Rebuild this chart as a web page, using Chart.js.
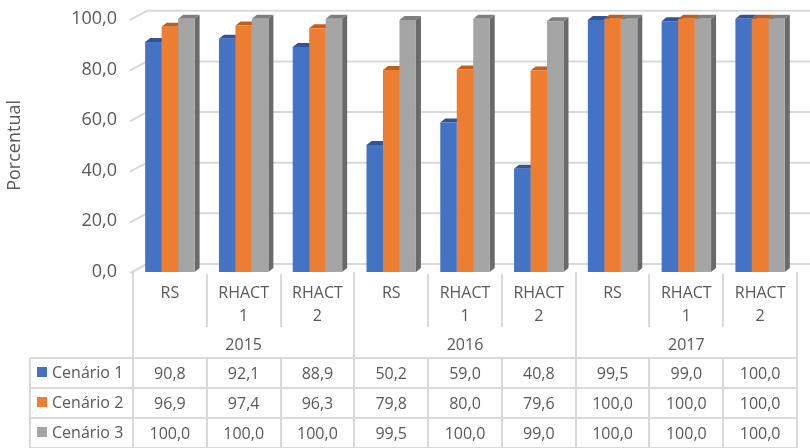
<!DOCTYPE html>
<html>
<head>
<meta charset="utf-8">
<script src="https://cdn.jsdelivr.net/npm/chart.js@4"></script>
<style>
  html, body { margin: 0; padding: 0; background: #fff; }
</style>
</head>
<body>
<canvas id="chart" width="810" height="448"></canvas>
<script>
// chart data
const categories = [['RS'], ['RHACT', '1'], ['RHACT', '2'], ['RS'], ['RHACT', '1'], ['RHACT', '2'], ['RS'], ['RHACT', '1'], ['RHACT', '2']];
const years = ['2015', '2016', '2017'];
const seriesNames = ['Cenário 1', 'Cenário 2', 'Cenário 3'];
const cenario1 = [90.8, 92.1, 88.9, 50.2, 59.0, 40.8, 99.5, 99.0, 100.0];
const cenario2 = [96.9, 97.4, 96.3, 79.8, 80.0, 79.6, 100.0, 100.0, 100.0];
const cenario3 = [100.0, 100.0, 100.0, 99.5, 100.0, 99.0, 100.0, 100.0, 100.0];
const yTicks = [0, 20, 40, 60, 80, 100];

const colors = ['#4472C4', '#ED7D31', '#A5A5A5'];
const topColors = ['#2F5597', '#C0601C', '#7F7F7F'];
const sideColors = ['#2F5597', '#B0561A', '#6A6A6A'];
const textColor = '#595959';
const lineColor = '#D9D9D9';
const font = '"Open Sans", sans-serif';

function fmt(v) {
    return v.toFixed(1).replace('.', ',');
}

// fake 3D look + back wall grid
const excel3d = {
    id: 'excel3d',
    beforeDatasetsDraw(chart) {
        const { ctx, chartArea: a, scales: { y } } = chart;
        const dx = 5, dy = 4;
        ctx.save();
        ctx.strokeStyle = lineColor;
        ctx.lineWidth = 2;
        yTicks.forEach(v => {
            const py = y.getPixelForValue(v) - 8;
            ctx.beginPath();
            ctx.moveTo(a.left + 14, py);
            ctx.lineTo(a.right + 13, py);
            ctx.stroke();
            ctx.beginPath();
            ctx.moveTo(a.left - 3, py + 9);
            ctx.lineTo(a.left + 14, py);
            ctx.stroke();
        });
        chart.data.datasets.forEach((ds, di) => {
            chart.getDatasetMeta(di).data.forEach(bar => {
                const x0 = bar.x - bar.width / 2, x1 = bar.x + bar.width / 2;
                const top = bar.y, base = bar.base;
                ctx.fillStyle = sideColors[di];
                ctx.beginPath();
                ctx.moveTo(x1, top);
                ctx.lineTo(x1 + dx, top - dy);
                ctx.lineTo(x1 + dx, base - dy);
                ctx.lineTo(x1, base);
                ctx.closePath();
                ctx.fill();
                ctx.fillStyle = topColors[di];
                ctx.beginPath();
                ctx.moveTo(x0, top);
                ctx.lineTo(x0 + dx, top - dy);
                ctx.lineTo(x1 + dx, top - dy);
                ctx.lineTo(x1, top);
                ctx.closePath();
                ctx.fill();
            });
        });
        ctx.restore();
    },
    // category labels + data table
    afterDraw(chart) {
        const { ctx, chartArea: a, scales: { x } } = chart;
        const data = [cenario1, cenario2, cenario3];
        const step = x.getPixelForValue(1) - x.getPixelForValue(0);
        const b = a.bottom;
        const tableTop = b + 86, rowH = 30;
        ctx.save();
        ctx.strokeStyle = lineColor;
        ctx.lineWidth = 2;

        // vertical lines
        for (let i = 0; i <= categories.length; i++) {
            const px = Math.round(x.getPixelForValue(0) - step / 2 + i * step);
            const groupEdge = i % 3 === 0;
            ctx.beginPath();
            ctx.moveTo(px, groupEdge ? b : b + 2);
            ctx.lineTo(px, groupEdge ? tableTop + rowH * 3 : b + 55);
            ctx.stroke();
            if (!groupEdge) {
                ctx.beginPath();
                ctx.moveTo(px, tableTop);
                ctx.lineTo(px, tableTop + rowH * 3);
                ctx.stroke();
            }
        }
        // horizontal lines
        for (let r = 0; r <= 3; r++) {
            ctx.beginPath();
            ctx.moveTo(30, tableTop + r * rowH);
            ctx.lineTo(a.right, tableTop + r * rowH);
            ctx.stroke();
        }
        ctx.beginPath();
        ctx.moveTo(30, tableTop);
        ctx.lineTo(30, tableTop + rowH * 3);
        ctx.stroke();

        ctx.fillStyle = textColor;
        ctx.font = '16px ' + font;
        ctx.textAlign = 'center';
        ctx.textBaseline = 'middle';
        categories.forEach((lab, i) => {
            const px = x.getPixelForValue(i);
            lab.forEach((t, li) => ctx.fillText(t, px, b + 21 + li * 23));
        });
        years.forEach((yr, g) => {
            const px = (x.getPixelForValue(g * 3) + x.getPixelForValue(g * 3 + 2)) / 2;
            ctx.fillText(yr, px, b + 73);
        });
        data.forEach((row, r) => {
            const cy = tableTop + r * rowH + rowH / 2;
            row.forEach((v, i) => ctx.fillText(fmt(v), x.getPixelForValue(i), cy + 1));
            ctx.fillStyle = colors[r];
            ctx.fillRect(37, cy - 6, 10, 10);
            ctx.fillStyle = textColor;
            ctx.textAlign = 'left';
            ctx.fillText(seriesNames[r], 52, cy);
            ctx.textAlign = 'center';
        });
        ctx.restore();
    }
};

new Chart(document.getElementById('chart'), {
    type: 'bar',
    data: {
        labels: categories.map(c => c.join(' ')),
        datasets: [
            { label: seriesNames[0], data: cenario1, backgroundColor: colors[0] },
            { label: seriesNames[1], data: cenario2, backgroundColor: colors[1] },
            { label: seriesNames[2], data: cenario3, backgroundColor: colors[2] }
        ]
    },
    options: {
        responsive: false,
        animation: false,
        devicePixelRatio: 1,
        layout: { padding: { top: 17, right: 13, bottom: 176, left: 0 } },
        categoryPercentage: 0.67,
        barPercentage: 1.0,
        plugins: { legend: { display: false }, tooltip: { enabled: false } },
        scales: {
            x: { display: false },
            y: {
                min: 0,
                max: 100,
                afterBuildTicks: s => { s.ticks = yTicks.map(v => ({ value: v })); },
                afterFit: s => { s.width = 133; },
                grid: { display: false },
                border: { display: false },
                ticks: {
                    padding: 8,
                    color: textColor,
                    font: { family: font, size: 18 },
                    callback: v => fmt(v)
                },
                title: {
                    display: true,
                    text: 'Porcentual',
                    color: textColor,
                    font: { family: font, size: 18 },
                    padding: { top: 4, bottom: 0 }
                }
            }
        }
    },
    plugins: [excel3d]
});
</script>
</body>
</html>
